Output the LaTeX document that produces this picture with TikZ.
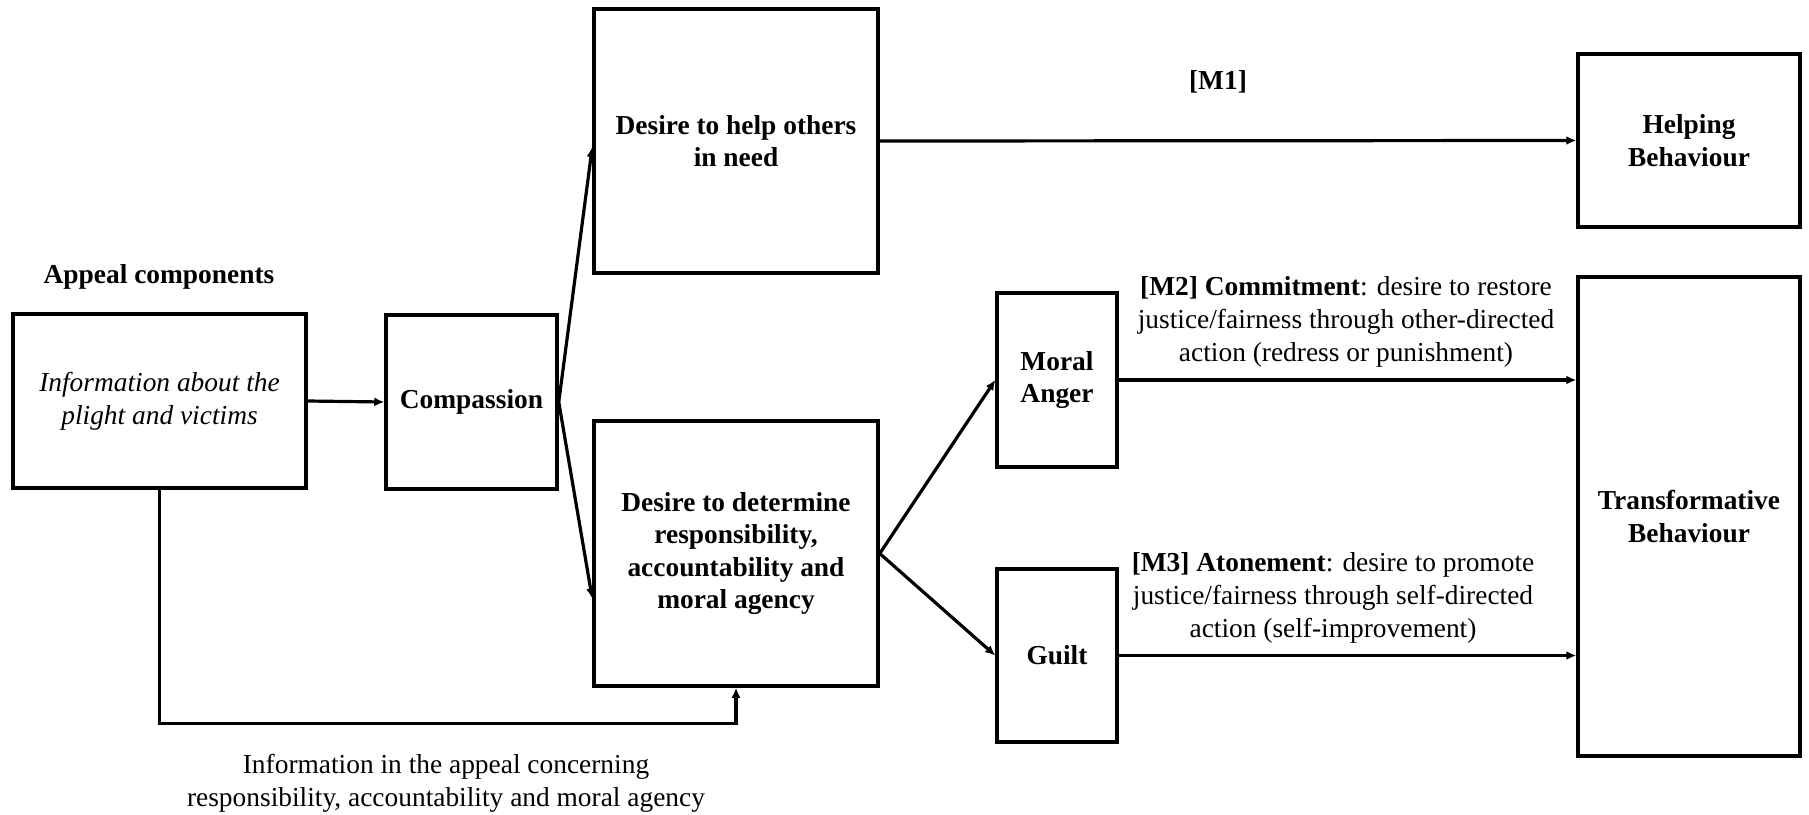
\documentclass[tikz,border=0pt]{standalone}
\usepackage{fontspec}
\setmainfont{Liberation Serif}
\usetikzlibrary{calc}
\usetikzlibrary{arrows.meta}
\newcommand{\tamano}{\fontsize{13.7}{16.3}\selectfont}

\begin{document}
\begin{tikzpicture}[x=0.5pt, y=-0.5pt,
  caja/.style={draw, line width=1.75pt, align=center, inner sep=0pt, font=\tamano\bfseries},
  flecha/.style={-{Latex[length=5pt,width=4.5pt]}, line width=1.6pt},
  texto/.style={align=center, font=\tamano}]
  \useasboundingbox (0,0) rectangle (1809,814); % marco
  \node [texto, font=\tamano\bfseries] (titulo) at (159,277) {Appeal components};
  \node [caja, minimum width=146.5pt, minimum height=87pt, font=\tamano\itshape] (info) at (159.5,401) {Information about the\\plight and victims}; % componentes
  \node [caja, minimum width=85.5pt, minimum height=87pt] (comp) at (471.5,402) {Compassion};
  \node [caja, minimum width=142pt, minimum height=132pt] (ayuda) at (736,141) {Desire to help others\\in need};
  \node [caja, minimum width=142pt, minimum height=132.5pt] (resp) at (736,553.5) {Desire to determine\\responsibility,\\accountability and\\moral agency};
  \node [caja, minimum width=60pt, minimum height=87pt] (ira) at (1057,380) {Moral\\Anger};
  \node [caja, minimum width=60pt, minimum height=86.5pt] (culpa) at (1057,655.5) {Guilt};
  \node [caja, minimum width=111pt, minimum height=86.5pt] (helping) at (1689,140.5) {Helping\\Behaviour};
  \node [caja, minimum width=111pt, minimum height=239.5pt] (trans) at (1689,516.5) {Transformative\\Behaviour};
  % etiquetas de los caminos
  \node [texto, font=\tamano\bfseries] (m1) at (1218,82) {[M1]};
  \node [texto] (m2) at (1346,322) {\textbf{[M2] Commitment}: desire to restore\\justice/fairness through other-directed\\action (redress or punishment)};
  \node [texto] (m3) at (1333,598) {\textbf{[M3] Atonement}: desire to promote\\justice/fairness through self-directed\\action (self-improvement)};
  \node [texto] (abajo) at (446,783) {Information in the appeal concerning\\responsibility, accountability and moral agency};
  % flechas
  \draw [flecha] (info.east) -- (comp.west);
  \draw [flecha] (comp.east) -- ($(ayuda.west)+(0,6)$);
  \draw [flecha] (comp.east) -- ($(resp.west)+(0,45)$);
  \draw [flecha] (ayuda.east) -- (helping.west);
  \draw [flecha] (resp.east) -- (ira.west);
  \draw [flecha] (resp.east) -- (culpa.west);
  \draw [flecha] (ira.east) -- (trans.west |- ira.east);
  \draw [flecha] (culpa.east) -- (trans.west |- culpa.east);
  \draw [flecha] (info.south) |- ([yshift=-18pt]resp.south) -- (resp.south); % retorno inferior
\end{tikzpicture}
\end{document}
